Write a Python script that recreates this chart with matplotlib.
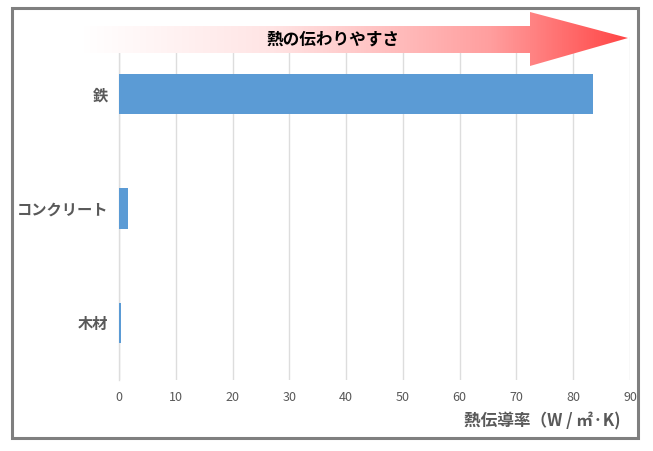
import numpy as np
import matplotlib
matplotlib.use('Agg')
import matplotlib.pyplot as plt
from matplotlib.patches import Polygon, Rectangle
from matplotlib.colors import LinearSegmentedColormap

plt.rcParams['font.family'] = ['Noto Sans CJK JP', 'DejaVu Sans']

materials = ['鉄', 'コンクリート', '木材']
conductivity = [83.5, 1.6, 0.3]
x_ticks = [0, 10, 20, 30, 40, 50, 60, 70, 80, 90]
x_label = '熱伝導率（W / ㎡·K)'
arrow_text = '熱の伝わりやすさ'

W, H = 653, 451
fig = plt.figure(figsize=(W / 100, H / 100), dpi=100)
fig.patch.set_facecolor('white')

# main bar chart
ax = fig.add_axes([119 / W, 1 - 380 / H, 511 / W, 343 / H])
pos = np.arange(len(materials))
ax.barh(pos, conductivity, height=0.35, color='#5B9BD5', zorder=3)
ax.set_ylim(len(materials) - 0.5, -0.5)
ax.set_xlim(0, 90)
ax.set_xticks(x_ticks)
ax.set_xticklabels([str(t) for t in x_ticks], color='#595959', fontsize=9)
ax.set_yticks(pos)
ax.set_yticklabels(materials, color='#595959', fontsize=11, fontweight='bold')
ax.tick_params(axis='both', length=0)
ax.tick_params(axis='x', pad=8)
ax.tick_params(axis='y', pad=8)
ax.grid(axis='x', color='#DDDDDD', linewidth=1, zorder=0)
for s in ['top', 'right', 'bottom']:
    ax.spines[s].set_visible(False)
ax.spines['left'].set_color('#DDDDDD')
ax.spines['left'].set_linewidth(1)
ax.spines['left'].set_zorder(1)

fig.text(620 / W, 1 - 421 / H, x_label, ha='right', va='center',
         fontsize=12, fontweight='bold', color='#595959')

# overlay in pixel coordinates for the arrow and frame
ov = fig.add_axes([0, 0, 1, 1], zorder=5)
ov.set_xlim(0, W)
ov.set_ylim(H, 0)
ov.axis('off')
ov.patch.set_alpha(0)

arrow_pts = [(82, 26), (530, 26), (530, 12), (628, 38), (530, 66), (530, 53), (82, 53)]
arrow = Polygon(arrow_pts, closed=True, facecolor='none', edgecolor='none')
ov.add_patch(arrow)
cmap = LinearSegmentedColormap.from_list(
    'heat', [(0.0, '#FFFFFF'), (0.35, '#FFE4E4'), (0.75, '#FF9E9E'), (1.0, '#FF4545')])
grad = np.linspace(0, 1, 512).reshape(1, -1)
img = ov.imshow(grad, cmap=cmap, aspect='auto', extent=(82, 628, 66, 12),
                interpolation='bilinear')
img.set_clip_path(arrow)
ov.set_xlim(0, W)
ov.set_ylim(H, 0)

ov.text(333, 40, arrow_text, ha='center', va='center', fontsize=12,
        fontweight='bold', color='black')

ov.add_patch(Rectangle((12, 8), 626, 430, facecolor='none',
                       edgecolor='#7F7F7F', linewidth=2.2))

fig.savefig('out.png', dpi=100)
